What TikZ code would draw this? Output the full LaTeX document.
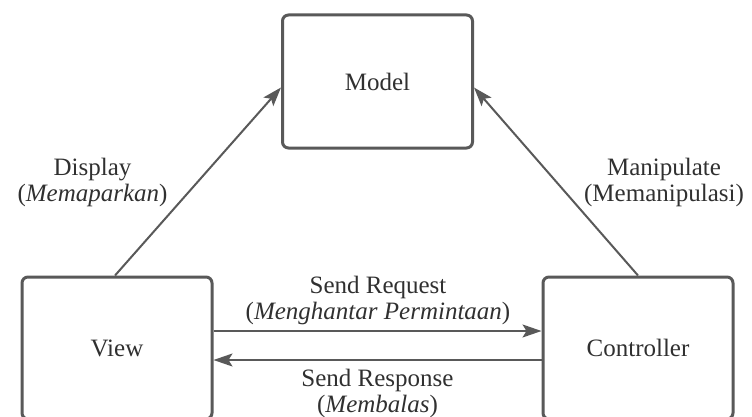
\documentclass[tikz,border=0pt]{standalone}
\usepackage{fontspec}
\setmainfont{Liberation Serif}
\usetikzlibrary{arrows.meta}
\definecolor{edge}{HTML}{595959}
\definecolor{ink}{HTML}{303030}
\begin{document}
\begin{tikzpicture}[x=1pt,y=1pt,
  block/.style={draw=edge, line width=3pt, rounded corners=6pt, minimum width=190pt,
    fill=white, text=ink, font=\fontsize{25}{30}\selectfont, inner sep=0pt},
  link/.style={draw=edge, line width=2pt, -{Stealth[length=19pt,width=13pt,inset=4pt]}},
  lbl/.style={text=ink, align=center, font=\fontsize{25}{26}\selectfont, inner sep=0pt}]
\useasboundingbox (0,0) rectangle (752,416);
\clip (0,0) rectangle (752,416);

% the three MVC components
\node[block, minimum height=133pt] (model) at (377.5,334.5) {Model};
\node[block, minimum height=142pt] (view) at (117,68) {View};
\node[block, minimum height=142pt] (controller) at (638,68) {Controller};

% connectors
\draw[link] ([xshift=-2pt]view.north) -- ([yshift=-6pt]model.west);
\draw[link] (controller.north) -- ([yshift=-6pt]model.east);
\draw[link] ([yshift=17pt]view.east) -- ([yshift=17pt]controller.west);
\draw[link] ([yshift=-12pt]controller.west) -- ([yshift=-12pt]view.east);

% connector labels
\node[lbl] (display) at (92.5,233.5) {Display\\(\textit{Memaparkan})};
\node[lbl] (manip) at (664,233.5) {Manipulate\\(Memanipulasi)};
\node[lbl] (request) at (378,115.5) {Send Request\\(\textit{Menghantar Permintaan})};
\node[lbl] (response) at (377.5,23) {Send Response\\(\textit{Membalas})};
\end{tikzpicture}
\end{document}
